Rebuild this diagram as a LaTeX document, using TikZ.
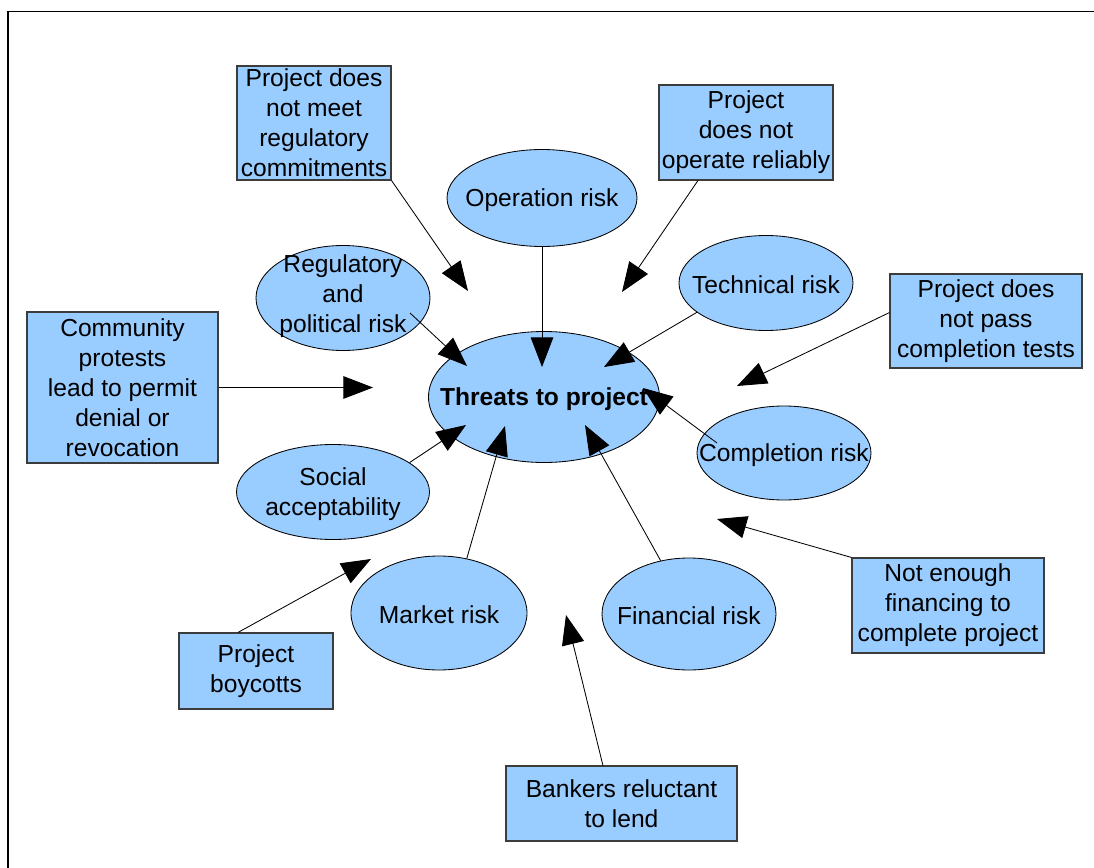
\documentclass[tikz,border=0pt]{standalone}
\usepackage{fontspec}
\setmainfont{Liberation Sans}
\usetikzlibrary{shapes.geometric, arrows.meta, calc}
\definecolor{riskblue}{HTML}{99CCFF}
\definecolor{boxline}{HTML}{3C3C3C}
\tikzset{
  dims/.style 2 args={minimum width=#1*0.025cm, minimum height=#2*0.025cm},
  risk/.style={ellipse, draw=black, line width=0.6pt, fill=riskblue, inner sep=0pt},
  risktext/.style={font=\fontsize{17.5}{21.3}\selectfont, align=center, inner sep=0pt,
    yshift=-1.2pt},
  threat/.style={rectangle, draw=boxline, line width=0.8pt, fill=riskblue, inner sep=0pt,
    align=center, font=\fontsize{17.5}{21.3}\selectfont},
  link/.style={->, line width=0.6pt}
}
\begin{document}
\begin{tikzpicture}[x=0.025cm, y=-0.025cm, >={Triangle[length=21pt, width=16pt]}]
  \useasboundingbox (0,0) rectangle (1094,868);
  % Frame
  \draw[line width=1.4pt] (8,868) -- (8,11.5) -- (1094,11.5);

  % Central risk
  \node[risk, dims={231}{131}] (threats) at (544,397) {};
  \node[risktext] (threatsT) at (threats) {\textbf{Threats to project}};

  % Risk types round the centre
  \node[risk, dims={190}{97}] (opr) at (542,198) {};
  \node[risktext] (oprT) at (opr) {Operation risk};
  \node[risk, dims={174}{95}] (tech) at (766,283) {};
  \node[risktext] (techT) at (tech) {Technical risk};
  \node[risk, dims={174}{105}] (reg) at (343,298) {};
  \node[risktext] (regT) at (343,294) {Regulatory\\and\\political risk};
  \node[risk, dims={174}{94}] (comp) at (784,453) {};
  \node[risktext] (compT) at (comp) {Completion risk};
  \node[risk, dims={193}{95}] (soc) at (333,492) {};
  \node[risktext] (socT) at (soc) {Social\\acceptability};
  \node[risk, dims={176}{114}] (mkt) at (439,613) {};
  \node[risktext] (mktT) at (mkt) {Market risk};
  \node[risk, dims={174}{112}] (fin) at (689,614) {};
  \node[risktext] (finT) at (fin) {Financial risk};

  % Threat boxes
  \node[threat, dims={154}{114}] (regbox) at (314,123)
    {Project does\\not meet\\regulatory\\commitments};
  \node[threat, dims={174}{95}] (relbox) at (746,132.5)
    {Project\\does not\\operate reliably};
  \node[threat, dims={192}{94}] (passbox) at (986,321)
    {Project does\\not pass\\completion tests};
  \node[threat, dims={191}{151}] (commbox) at (122.5,387.5)
    {Community\\protests\\lead to permit\\denial or\\revocation};
  \node[threat, dims={192}{95}] (finbox) at (948,605.5)
    {Not enough\\financing to\\complete project};
  \node[threat, dims={154}{76}] (boybox) at (256,671)
    {Project\\boycotts};
  \node[threat, dims={231}{75}] (bankbox) at (621.5,803.5)
    {Bankers reluctant\\to lend};

  % Arrow tips
  \coordinate (tipRegbox) at (468,291);
  \coordinate (tipOpr) at (542,367);
  \coordinate (tipRelbox) at (622,292);
  \coordinate (tipTech) at (604,367);
  \coordinate (tipPassbox) at (737,386);
  \coordinate (tipCommbox) at (373,387.5);
  \coordinate (tipReg) at (467,366);
  \coordinate (tipComp) at (643,388);
  \coordinate (tipSoc) at (466,425);
  \coordinate (tipMkt) at (505,426);
  \coordinate (tipFin) at (585,425);
  \coordinate (tipFinbox) at (717,519);
  \coordinate (tipBoybox) at (371,559);
  \coordinate (tipBankbox) at (566,615);

  % Connectors
  \draw[link] (regbox.south east) -- (tipRegbox);
  \draw[link] (opr.south) -- (tipOpr);
  \draw[link] (relbox.225) -- (tipRelbox);
  \draw[link] (tech.203) -- (tipTech);
  \draw[link] (passbox.175) -- (tipPassbox);
  \draw[link] (commbox.east) -- (tipCommbox);
  \draw[link] ($(reg.center)+(67,15)$) -- (tipReg);
  \draw[link] ($(comp.center)+(-67,-10)$) -- (tipComp);
  \draw[link] (soc.21) -- (tipSoc);
  \draw[link] (mkt.63) -- (tipMkt);
  \draw[link] (fin.118) -- (tipFin);
  \draw[link] (finbox.north west) -- (tipFinbox);
  \draw[link] (boybox.115) -- (tipBoybox);
  \draw[link] (bankbox.116) -- (tipBankbox);
\end{tikzpicture}
\end{document}
